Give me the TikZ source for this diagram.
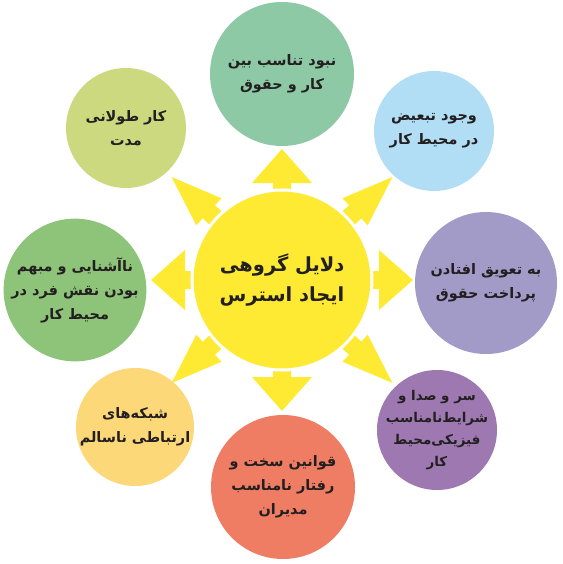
\documentclass[tikz,border=0pt]{standalone}
\usepackage{fontspec}
\newfontfamily\farsi[Script=Arabic]{DejaVu Sans}
\TeXXeTstate=1
\newcommand{\fa}[1]{\beginR #1\endR}
\definecolor{sunyellow}{HTML}{FEEA33}
\definecolor{topgreen}{HTML}{8EC9A6}
\definecolor{skyblue}{HTML}{B2DEF5}
\definecolor{lavender}{HTML}{A29BC8}
\definecolor{plum}{HTML}{9E78B0}
\definecolor{salmon}{HTML}{EE7D63}
\definecolor{apricot}{HTML}{FDD878}
\definecolor{leafgreen}{HTML}{8EC47A}
\definecolor{lime}{HTML}{CDD97E}
\definecolor{ink}{HTML}{231F20}
\usetikzlibrary{positioning}
\begin{document}
\begin{tikzpicture}[x=1bp,y=-1bp,
	caption/.style={inner sep=0pt,align=center,text=ink,
		font=\farsi\bfseries\fontsize{14.5}{24}\selectfont},
	reason/.style={circle,caption},
	core/.style={circle,fill=sunyellow,draw=white,line width=3bp,inner sep=0pt,
		minimum size=180bp,align=center,text=ink,
		font=\farsi\bfseries\fontsize{19.5}{30}\selectfont},
	sun/.style={fill=sunyellow}]
	\useasboundingbox (0,0) rectangle (563,564);
	\coordinate (mid) at (282,280);
	
	\foreach \a in {0,90,180,270}{
		\fill[sun,shift={(mid)},rotate=\a] (0,-9)--(97,-9)--(97,-30)--(131,0)--(97,30)--(97,9)--(0,9)--cycle;
	}
	\foreach \a in {43,137,223,317}{
		\fill[sun,shift={(mid)},rotate=\a] (0,-9)--(100,-9)--(100,-18.5)--(151,0)--(100,18.5)--(100,9)--(0,9)--cycle;
	}
	\node[core] (hub) at (mid) {\fa{دلایل گروهی}\\\fa{ایجاد استرس}};
	
	\node[reason,fill=topgreen,minimum size=144bp] (pay) at (282,74) {\fa{نبود تناسب بین}\\\fa{کار و حقوق}};
	\node[reason,fill=skyblue,minimum size=120bp] (bias) at (434,131) {\fa{وجود تبعیض}\\\fa{در محیط کار}};
	\node[reason,fill=lavender,minimum size=142bp] (delay) at (486,283) {\fa{به تعویق افتادن}\\\fa{پرداخت حقوق}};
	\node[circle,fill=plum,minimum size=120bp] (noise) at (437,430) {};
	\node[caption,font=\farsi\bfseries\fontsize{13.5}{22}\selectfont] (noisetext) at (noise) {\fa{سر و صدا و}\\\fa{شرایط‌نامناسب}\\\fa{فیزیکی‌محیط}\\\fa{کار}};
	\node[reason,fill=salmon,minimum size=144bp] (rules) at (283,487) {\fa{قوانین سخت و}\\\fa{رفتار نامناسب}\\\fa{مدیران}};
	\node[reason,fill=apricot,minimum size=118bp] (network) at (135,427) {\fa{شبکه‌های}\\\fa{ارتباطی ناسالم}};
	\node[reason,fill=leafgreen,minimum size=142bp] (role) at (75,290) {\fa{ناآشنایی و مبهم}\\\fa{بودن نقش فرد در}\\\fa{محیط کار}};
	\node[reason,fill=lime,minimum size=120bp] (hours) at (126,128) {\fa{کار طولانی}\\\fa{مدت}};
\end{tikzpicture}
\end{document}
